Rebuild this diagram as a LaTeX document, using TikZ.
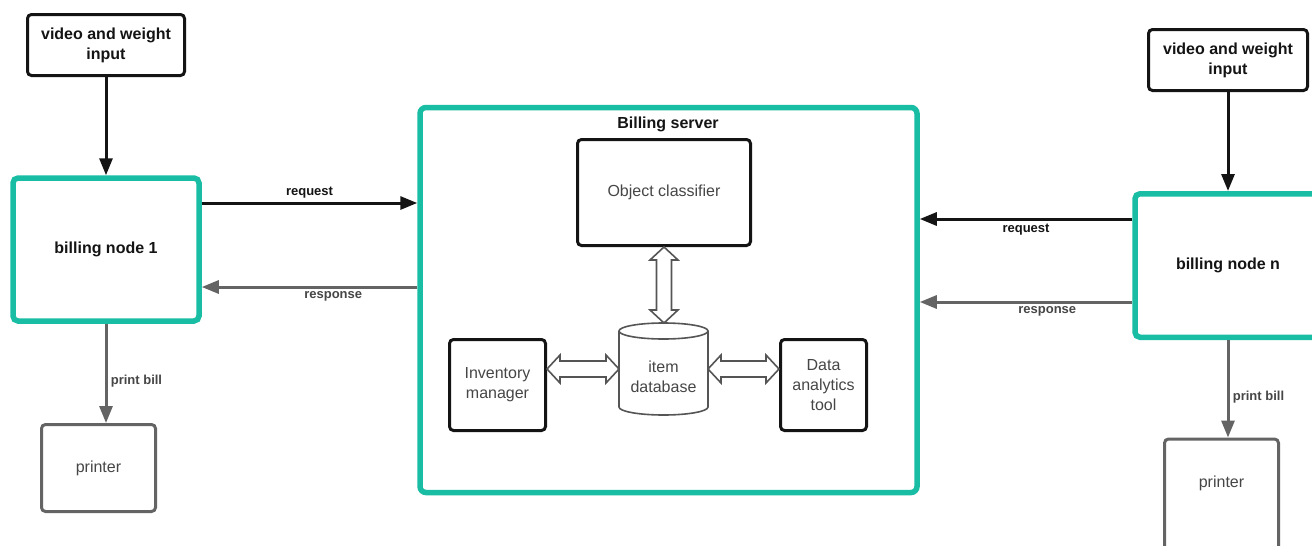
\documentclass[tikz,border=0pt]{standalone}
\usepackage{fontspec}
\setmainfont{Liberation Sans}
\usetikzlibrary{arrows.meta,calc}

\definecolor{nodeteal}{RGB}{24,189,164}
\definecolor{linkgray}{RGB}{100,100,100}
\definecolor{labelgray}{RGB}{70,70,70}
\definecolor{inkdark}{RGB}{20,20,20}
\definecolor{outlinegray}{RGB}{85,85,85}

\tikzset{
  inbox/.style={draw=inkdark, line width=3pt, rounded corners=4pt, fill=white,
    align=center, inner sep=0pt, text=inkdark,
    font=\fontsize{16}{20}\selectfont\bfseries},
  billbox/.style={draw=nodeteal, line width=5.5pt, rounded corners=5pt, fill=white,
    align=center, inner sep=0pt, text=inkdark,
    font=\fontsize{16}{20}\selectfont\bfseries},
  printbox/.style={draw=linkgray, line width=3pt, rounded corners=4pt, fill=white,
    align=center, inner sep=0pt, text=labelgray,
    font=\fontsize{16}{20}\selectfont},
  printtext/.style={text=labelgray, font=\fontsize{16}{20}\selectfont},
  serverbox/.style={draw=nodeteal, line width=5.5pt, rounded corners=6pt, inner sep=0pt},
  innerbox/.style={draw=inkdark, line width=3pt, rounded corners=4pt, fill=white,
    align=center, inner sep=0pt, text=labelgray,
    font=\fontsize{16}{20}\selectfont},
  titletext/.style={text=inkdark, font=\fontsize{16}{20}\selectfont\bfseries},
  dbtext/.style={text=labelgray, align=center, font=\fontsize{16}{20}\selectfont},
  dbline/.style={draw=outlinegray, line width=1.6pt},
  hollow/.style={draw=outlinegray, line width=1.6pt, fill=white, line join=miter},
  blkarrow/.style={draw=inkdark, line width=3pt,
    -{Triangle[length=17pt,width=13pt]}},
  gryarrow/.style={draw=linkgray, line width=3pt,
    -{Triangle[length=17pt,width=13pt]}},
  reqlabel/.style={text=inkdark, font=\fontsize{13}{15}\selectfont\bfseries},
  lbl/.style={text=labelgray, font=\fontsize{13}{15}\selectfont\bfseries},
}

% hollow two-headed arrows between two points (vertical / horizontal)
\newcommand{\hollowvert}[2]{%
  \draw[hollow] let \p1=(#1), \p2=(#2) in
    (\x1,\y1) -- (\x1+14pt,\y1-13pt) -- (\x1+7.5pt,\y1-13pt) --
    (\x1+7.5pt,\y2+13pt) -- (\x1+14pt,\y2+13pt) -- (\x1,\y2) --
    (\x1-14pt,\y2+13pt) -- (\x1-7.5pt,\y2+13pt) --
    (\x1-7.5pt,\y1-13pt) -- (\x1-14pt,\y1-13pt) -- cycle;}
\newcommand{\hollowhorz}[2]{%
  \draw[hollow] let \p1=(#1), \p2=(#2) in
    (\x1,\y1) -- (\x1+13pt,\y1+14pt) -- (\x1+13pt,\y1+8pt) --
    (\x2-13pt,\y1+8pt) -- (\x2-13pt,\y1+14pt) -- (\x2,\y1) --
    (\x2-13pt,\y1-14pt) -- (\x2-13pt,\y1-8pt) --
    (\x1+13pt,\y1-8pt) -- (\x1+13pt,\y1-14pt) -- cycle;}

\begin{document}
\begin{tikzpicture}[x=1pt,y=-1pt]
\useasboundingbox (0,0) rectangle (1312,546);
\fill[white] (0,0) rectangle (1312,546);
\clip (0,0) rectangle (1312,546);

% rows used by the request / response links
\coordinate (yreqA) at (0,203);
\coordinate (yresA) at (0,287);
\coordinate (yreqB) at (0,219);
\coordinate (yresB) at (0,302);

% left billing station
\node[inbox, minimum width=157pt, minimum height=61pt] (in1) at (106,45) {video and weight\\input};
\node[billbox, minimum width=186pt, minimum height=143pt] (bn1) at (106,249.5) {billing node 1};
\node[printbox, minimum width=114pt, minimum height=87pt] (pr1) at (98.5,468) {printer};

% right billing station (runs past the page edge)
\node[inbox, minimum width=159pt, minimum height=61pt] (in2) at (1228,60) {video and weight\\input};
\node[billbox, minimum width=186pt, minimum height=143.5pt] (bn2) at (1228,265.5) {billing node n};
\node[printbox, minimum width=114pt, minimum height=130pt] (pr2) at (1221.5,504) {};
\node[printtext] (pr2text) at (1221.5,483) {printer};

% billing server and its parts
\node[serverbox, minimum width=497pt, minimum height=385pt] (srv) at (668.5,300) {};
\node[titletext] (srvtitle) at (668,124) {Billing server};
\node[innerbox, minimum width=173pt, minimum height=106pt] (oc) at (664,192.5) {Object classifier};
\node[innerbox, minimum width=96pt, minimum height=91pt] (inv) at (497.5,385) {Inventory\\manager};
\node[innerbox, minimum width=86pt, minimum height=91pt] (dat) at (823.5,385) {Data\\analytics\\tool};
\node[minimum width=89pt, minimum height=92pt, inner sep=0pt, outer sep=0pt] (db) at (663.5,369) {};

% item database cylinder
\draw[dbline, fill=white] ($(db.north west)+(0,8)$) -- ($(db.south west)+(0,-8)$)
  arc[start angle=180, end angle=360, x radius=44.5pt, y radius=8pt]
  -- ($(db.north east)+(0,8)$);
\draw[dbline] ($(db.north)+(0,8)$) ellipse[x radius=44.5pt, y radius=8pt];
\node[dbtext] (dblabel) at (663.5,377) {item\\database};

% two-way links inside the server
\hollowvert{oc.south}{db.north}
\hollowhorz{inv.east |- db.west}{db.west}
\hollowhorz{db.east}{dat.west |- db.east}

% left station links
\draw[blkarrow] (in1) -- (bn1);
\draw[blkarrow] (bn1.east |- yreqA) -- (srv.west |- yreqA)
  node[midway, above, reqlabel] {request};
\draw[gryarrow] (srv.west |- yresA) -- (bn1.east |- yresA)
  node[pos=0.39, below, lbl] {response};
\draw[gryarrow] (bn1.south) -- (pr1.north -| bn1.south)
  node[pos=0.58, right, lbl] {print bill};

% right station links
\draw[blkarrow] (in2) -- (bn2);
\draw[blkarrow] (bn2.west |- yreqB) -- (srv.east |- yreqB)
  node[pos=0.5, below, reqlabel] {request};
\draw[gryarrow] (bn2.west |- yresB) -- (srv.east |- yresB)
  node[pos=0.4, below, lbl] {response};
\draw[gryarrow] (bn2.south) -- (pr2.north -| bn2.south)
  node[pos=0.59, right, lbl] {print bill};
\end{tikzpicture}
\end{document}
